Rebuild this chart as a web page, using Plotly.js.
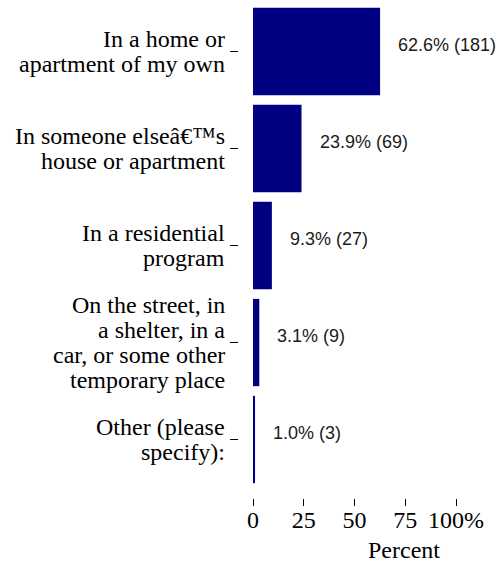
<!DOCTYPE html>
<html>
<head>
<meta charset="utf-8">
<script src="https://cdn.plot.ly/plotly-3.0.1.min.js"></script>
<style>
  html, body { margin: 0; padding: 0; background: #fff; }
  #chart { width: 499px; height: 562px; }
</style>
</head>
<body>
<div id="chart"></div>
<script>
// category labels, top to bottom, with the line breaks of the picture
const categories = [
    'In a home or<br>apartment of my own',
    'In someone else\u00e2\u20ac\u2122s<br>house or apartment',
    'In a residential<br>program',
    'On the street, in<br>a shelter, in a<br>car, or some other<br>temporary place',
    'Other (please<br>specify):'
]
const percents = [62.6, 23.9, 9.3, 3.1, 1.0]
const counts = [181, 69, 27, 9, 3]
const xTickVals = [0, 25, 50, 75, 100]
const xTickText = ['0', '25', '50', '75', '100%']
const xTitle = 'Percent'

const serif = 'Liberation Serif, Times New Roman, serif'
const sans = 'Liberation Sans, Arial, sans-serif'

const idx = categories.map((_, i) => i)

const trace = {
    type: 'bar',
    orientation: 'h',
    x: percents,
    y: idx,
    marker: { color: '#000080', line: { width: 0 } },
    hoverinfo: 'skip'
}

// value labels to the right of each bar
const valueNotes = idx.map(i => ({
    x: percents[i],
    y: i,
    xref: 'x',
    yref: 'y',
    text: `${percents[i].toFixed(1)}% (${counts[i]})`,
    showarrow: false,
    xanchor: 'left',
    xshift: 16,
    yshift: 7,
    font: { family: sans, size: 18, color: '#1a1a1a' }
}))

// category labels, one note per line so the line spacing stays tight
const lineGap = 25
let catNotes = []
categories.forEach((lab, i) => {
    const lines = lab.split('<br>')
    const n = lines.length
    lines.forEach((ln, k) => {
        catNotes.push({
            x: 0,
            y: i,
            xref: 'paper',
            yref: 'y',
            text: ln,
            showarrow: false,
            xanchor: 'right',
            xshift: -11,
            yshift: ((n - 1) / 2 - k) * lineGap,
            font: { family: serif, size: 24, color: '#000' }
        })
    })
})

// axis title sits right of centre in the reference
const titleNote = {
    x: 0.76,
    y: 0,
    xref: 'paper',
    yref: 'paper',
    text: xTitle,
    showarrow: false,
    xanchor: 'center',
    yanchor: 'top',
    yshift: -37,
    font: { family: serif, size: 24, color: '#000' }
}

const layout = {
    width: 499,
    height: 562,
    margin: { l: 238, r: 43, t: 3, b: 64 },
    paper_bgcolor: '#fff',
    plot_bgcolor: '#fff',
    showlegend: false,
    bargap: 0.1,
    font: { family: serif, size: 24, color: '#000' },
    xaxis: {
        domain: [15 / 218, 1],
        range: [0, 100],
        anchor: 'free',
        position: 0,
        tickvals: xTickVals,
        ticktext: xTickText,
        ticks: 'outside',
        ticklen: 7,
        tickwidth: 1,
        tickcolor: '#000',
        ticklabelstandoff: -7,
        showgrid: false,
        zeroline: false,
        showline: false,
        tickfont: { family: serif, size: 24, color: '#000' }
    },
    yaxis: {
        domain: [10 / 495, 1],
        type: 'linear',
        range: [4.5, -0.5],
        anchor: 'free',
        position: 0,
        tickvals: idx,
        showticklabels: false,
        ticks: 'outside',
        ticklen: 8,
        tickwidth: 1,
        tickcolor: '#000',
        showgrid: false,
        zeroline: false,
        showline: false
    },
    annotations: valueNotes.concat(catNotes, [titleNote])
}

Plotly.newPlot('chart', [trace], layout, { displayModeBar: false, staticPlot: true })
</script>
</body>
</html>
